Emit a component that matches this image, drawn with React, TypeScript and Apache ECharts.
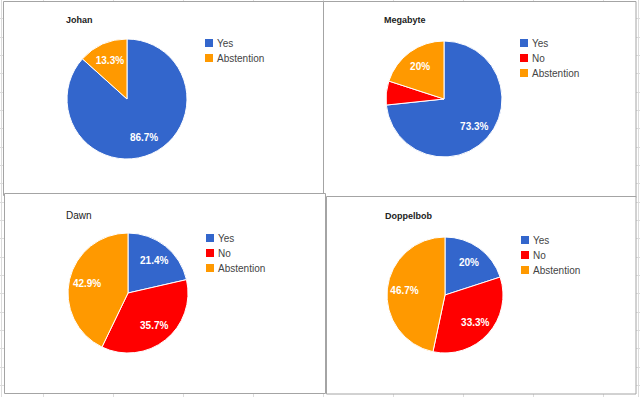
import React, { useEffect, useRef } from "react";
import * as echarts from "echarts";

const chartNames = ["Johan", "Megabyte", "Dawn", "Doppelbob"];
const johanCategories = ["Yes", "Abstention"];
const johanValues = [13, 2];
const megabyteCategories = ["Yes", "No", "Abstention"];
const megabyteValues = [11, 1, 3];
const dawnCategories = ["Yes", "No", "Abstention"];
const dawnValues = [3, 5, 6];
const doppelbobCategories = ["Yes", "No", "Abstention"];
const doppelbobValues = [3, 5, 7];

const COLORS: Record<string, string> = {
  Yes: "#3366cc",
  No: "#ff0000",
  Abstention: "#ff9900",
};
const FONT = "Arial, 'Liberation Sans', sans-serif";

const panels = [
  { cats: johanCategories, vals: johanValues, center: [127, 99], r: 60, title: [66, 14], bold: true, legend: [203, 37], rect: [3.5, 1.5, 320, 194] },
  { cats: megabyteCategories, vals: megabyteValues, center: [444, 99], r: 58, title: [384, 14], bold: true, legend: [518, 37], rect: [323.5, 1.5, 312.5, 196] },
  { cats: dawnCategories, vals: dawnValues, center: [128, 293], r: 60, title: [66, 209], bold: false, legend: [204, 232], rect: [4.5, 193.5, 321, 200] },
  { cats: doppelbobCategories, vals: doppelbobValues, center: [445, 295], r: 58, title: [385, 210], bold: true, legend: [519, 234], rect: [326.5, 196.5, 309.5, 197.5] },
];

export default function App() {
  const ref = useRef<HTMLDivElement>(null);
  useEffect(() => {
    if (!ref.current) return;
    const chart = echarts.init(ref.current, null, { renderer: "svg" });

    const graphics: any[] = [];
    // spreadsheet grid in the background
    for (let k = 1; k <= 21; k++) {
      const y = Math.round(k * 18.33) + 0.5;
      graphics.push({ type: "line", z: -20, shape: { x1: 0, y1: y, x2: 640, y2: y }, style: { stroke: "#dcdcdc", lineWidth: 1 } });
    }
    const vx = [1.5, 43.5, 113.5, 183.5, 253.5, 323.5, 393.5, 463.5, 533.5, 603.5, 638.5];
    vx.forEach((x) => {
      graphics.push({ type: "line", z: -20, shape: { x1: x, y1: 0, x2: x, y2: 397 }, style: { stroke: "#dcdcdc", lineWidth: 1 } });
    });
    panels.forEach((p, i) => {
      const [x, y, w, h] = p.rect;
      graphics.push({
        type: "rect",
        z: -10 + i,
        shape: { x, y, width: w, height: h },
        style: { fill: "#ffffff", stroke: "#a4a4a4", lineWidth: 1 },
      });
    });

    const series: any[] = [];
    panels.forEach((p) => {
      series.push({
        type: "pie",
        center: p.center,
        radius: [0, p.r],
        startAngle: 90,
        clockwise: true,
        label: { show: false },
        labelLine: { show: false },
        emphasis: { disabled: true },
        silent: true,
        itemStyle: { borderColor: "#ffffff", borderWidth: 1 },
        data: p.cats.map((c, j) => ({ name: c, value: p.vals[j], itemStyle: { color: COLORS[c] } })),
      });
    });
    panels.forEach((p) => {
      series.push({
        type: "pie",
        center: p.center,
        radius: [0, p.r * 1.3],
        startAngle: 90,
        clockwise: true,
        percentPrecision: 1,
        minShowLabelAngle: 30,
        silent: true,
        legendHoverLink: false,
        emphasis: { disabled: true },
        label: {
          show: true,
          position: "inside",
          formatter: "{d}%",
          color: "#ffffff",
          fontSize: 10,
          fontWeight: "bold",
          fontFamily: FONT,
        },
        labelLine: { show: false },
        itemStyle: { color: "rgba(0,0,0,0)", borderWidth: 0 },
        data: p.cats.map((c, j) => ({ name: c, value: p.vals[j] })),
      });
    });

    chart.setOption({
      animation: false,
      backgroundColor: "#ffffff",
      graphic: graphics,
      title: panels.map((p, i) => ({
        text: chartNames[i],
        left: p.title[0],
        top: p.title[1],
        padding: 0,
        textStyle: {
          fontSize: p.bold ? 9 : 10,
          fontWeight: p.bold ? "bold" : "normal",
          color: "#222222",
          fontFamily: FONT,
          lineHeight: 12,
        },
      })),
      legend: panels.map((p) => ({
        orient: "vertical",
        left: p.legend[0],
        top: p.legend[1],
        padding: 0,
        itemWidth: 10,
        itemHeight: 10,
        itemGap: 3,
        icon: "rect",
        selectedMode: false,
        textStyle: { fontSize: 10, color: "#444444", fontFamily: FONT, lineHeight: 10, padding: [0, 0, 0, -2] },
        data: p.cats.map((c) => ({ name: c, itemStyle: { color: COLORS[c] } })),
      })),
      series,
    });

    return () => chart.dispose();
  }, []);

  return (
    <div
      ref={ref}
      style={{ position: "fixed", left: 0, top: 0, width: 640, height: 397 }}
    />
  );
}
